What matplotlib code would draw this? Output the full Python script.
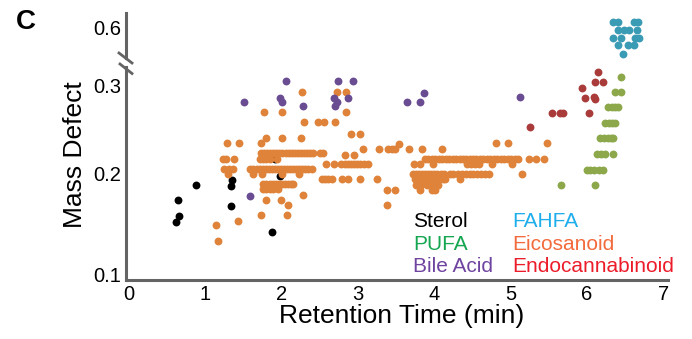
import numpy as np
import matplotlib
matplotlib.use("Agg")
import matplotlib.pyplot as plt
from matplotlib.lines import Line2D

plt.rcParams["font.family"] = ["Liberation Sans", "DejaVu Sans"]

# ---- data (retention time in min, mass defect) ----
sterol_x = [0.62, 0.66, 0.64, 0.88, 1.34, 1.34, 1.35, 1.87, 1.91, 1.98]
sterol_y = [0.150, 0.156, 0.172, 0.188, 0.166, 0.187, 0.193, 0.140, 0.216, 0.198]

eico_x = [
    1.17, 1.14, 1.43, 1.73, 2.07, 2.08, 3.38, 1.80, 1.99, 2.28,
    3.38, 3.49, 3.81, 3.97, 4.01,
    1.76, 1.80, 1.84, 1.88, 1.95,
    3.76, 3.82, 3.90, 3.98, 4.05,
    1.76, 1.80, 1.84, 1.88, 1.92, 1.96, 2.00, 2.04, 2.08, 2.12, 2.15,
    2.53, 2.57, 2.61, 2.66, 2.79, 2.87, 3.03, 3.25, 3.75, 3.79, 3.84, 3.88, 3.93, 3.97,
    4.02, 4.06, 4.11, 4.14, 4.34,
    1.30, 1.63, 1.74, 2.00, 2.23, 3.72, 3.76, 3.80, 3.84, 3.88, 3.92, 3.96, 4.00, 4.04,
    4.08, 4.12, 4.20, 4.25, 4.31, 4.36, 4.41, 4.46, 4.51, 4.56, 4.61, 4.66, 4.71, 5.15,
    1.24, 1.31, 1.36, 1.59, 1.63, 1.67, 1.71, 1.75, 1.79, 1.83, 1.87, 1.91, 1.95, 1.99,
    2.03, 2.07, 2.11, 2.15, 2.19, 2.23, 2.27, 2.31, 2.35, 2.39,
    2.58, 2.69, 2.78, 2.83, 2.87, 2.91, 2.95, 2.99, 3.03, 3.08, 3.13, 3.73, 3.81, 3.98,
    4.43, 4.48, 4.53, 4.58, 4.75, 5.02,
    1.23, 1.27, 1.38, 1.72, 1.76, 1.80, 1.84, 1.94, 3.88, 3.92, 3.97, 4.01, 4.06, 4.10,
    4.15, 4.19, 4.24, 4.28, 4.33, 4.37, 4.42, 4.46, 4.51, 4.55, 4.60, 4.64, 4.69, 4.73,
    4.78, 4.82, 4.87, 4.91, 4.96, 5.00, 5.05, 5.10, 5.24, 5.33, 5.43,
    2.83, 2.95,
    1.73, 1.77, 1.81, 1.85, 1.89, 1.93, 1.97, 2.01, 2.05, 2.09, 2.13, 2.17, 2.21, 2.25,
    2.29, 2.33, 2.37, 2.41, 2.50, 2.54,
    3.07, 3.28, 3.39, 3.44, 3.49, 3.67, 3.84, 4.10,
    3.54,
    1.28, 1.44, 1.73, 4.81, 4.97, 5.47,
    1.80, 2.01, 2.25,
    2.91, 3.03,
    2.29, 2.48, 2.56, 2.70,
    2.84, 1.77, 2.01,
    2.27, 2.73, 2.84,
]
eico_y = [
    0.132, 0.147, 0.151, 0.157, 0.157, 0.167, 0.167, 0.172, 0.172, 0.178,
    0.183, 0.183, 0.183, 0.183, 0.183,
    0.184, 0.184, 0.184, 0.184, 0.184,
    0.188, 0.188, 0.188, 0.188, 0.188,
    0.189, 0.189, 0.189, 0.189, 0.189, 0.189, 0.189, 0.189, 0.189, 0.189, 0.189,
    0.194, 0.194, 0.194, 0.194, 0.194, 0.194, 0.194, 0.194, 0.194, 0.194, 0.194, 0.194, 0.194, 0.194,
    0.194, 0.194, 0.194, 0.194, 0.194,
    0.200, 0.200, 0.200, 0.200, 0.200, 0.200, 0.200, 0.200, 0.200, 0.200, 0.200, 0.200, 0.200, 0.200,
    0.200, 0.200, 0.200, 0.200, 0.200, 0.200, 0.200, 0.200, 0.200, 0.200, 0.200, 0.200, 0.200, 0.200,
    0.205, 0.205, 0.205, 0.205, 0.205, 0.205, 0.205, 0.205, 0.205, 0.205, 0.205, 0.205, 0.205, 0.205,
    0.205, 0.205, 0.205, 0.205, 0.205, 0.205, 0.205, 0.205, 0.205, 0.205,
    0.210, 0.210, 0.210, 0.210, 0.210, 0.210, 0.210, 0.210, 0.210, 0.210, 0.210, 0.210, 0.210, 0.210,
    0.210, 0.210, 0.210, 0.210, 0.210, 0.210,
    0.216, 0.216, 0.216, 0.216, 0.216, 0.216, 0.216, 0.216, 0.216, 0.216, 0.216, 0.216, 0.216, 0.216,
    0.216, 0.216, 0.216, 0.216, 0.216, 0.216, 0.216, 0.216, 0.216, 0.216, 0.216, 0.216, 0.216, 0.216,
    0.216, 0.216, 0.216, 0.216, 0.216, 0.216, 0.216, 0.216, 0.216, 0.216, 0.216,
    0.220, 0.220,
    0.223, 0.223, 0.223, 0.223, 0.223, 0.223, 0.223, 0.223, 0.223, 0.223, 0.223, 0.223, 0.223, 0.223,
    0.223, 0.223, 0.223, 0.223, 0.223, 0.223,
    0.227, 0.227, 0.227, 0.227, 0.227, 0.227, 0.227, 0.227,
    0.232,
    0.234, 0.234, 0.234, 0.234, 0.234, 0.234,
    0.239, 0.239, 0.239,
    0.244, 0.244,
    0.257, 0.257, 0.257, 0.257,
    0.268, 0.269, 0.269,
    0.292, 0.292, 0.292,
]

bile_x = [1.51, 2.05, 1.98, 2.01, 2.28, 1.59, 2.74, 2.68, 2.72, 2.70, 2.93, 2.87,
          3.87, 3.64, 3.81, 5.12]
bile_y = [0.280, 0.305, 0.285, 0.280, 0.275, 0.177, 0.305, 0.285, 0.280, 0.275, 0.305, 0.285,
          0.291, 0.280, 0.280, 0.286]

endo_x = [5.25, 5.54, 5.65, 5.68, 6.02, 6.14, 6.10, 6.21, 5.93, 5.97, 6.09, 6.10]
endo_y = [0.251, 0.267, 0.267, 0.267, 0.267, 0.315, 0.303, 0.303, 0.296, 0.285, 0.286, 0.284]

pufa_x = [5.66, 6.10, 6.44, 6.36, 6.45,
          6.28, 6.33, 6.37, 6.40,
          6.24, 6.29, 6.33, 6.37,
          6.17, 6.22, 6.27, 6.31, 6.34,
          6.13, 6.18, 6.24, 6.34,
          6.00, 6.04, 6.09, 6.16, 6.21]
pufa_y = [0.188, 0.188, 0.310, 0.292, 0.292,
          0.274, 0.274, 0.274, 0.274,
          0.256, 0.256, 0.256, 0.256,
          0.239, 0.239, 0.239, 0.239, 0.239,
          0.221, 0.221, 0.221, 0.221,
          0.204, 0.204, 0.204, 0.204, 0.204]

fahfa_x = [6.34, 6.40, 6.61, 6.67,
           6.41, 6.49, 6.55, 6.65,
           6.34, 6.45, 6.63, 6.68,
           6.40, 6.53, 6.61,
           6.47]
fahfa_y = [0.607, 0.607, 0.607, 0.607,
           0.596, 0.596, 0.596, 0.596,
           0.585, 0.585, 0.585, 0.585,
           0.574, 0.574, 0.574,
           0.562]

legend_labels = ["Sterol", "PUFA", "Bile Acid", "FAHFA", "Eicosanoid", "Endocannabinoid"]
legend_colors = ["#000000", "#14A650", "#6F43A0", "#1EAEEB", "#F36A3C", "#EC1C2A"]

# ---- figure ----
W, H = 692, 339
fig = plt.figure(figsize=(W / 100, H / 100), dpi=100)
ax = fig.add_axes([126 / W, 59 / H, 542 / W, 213 / H])
axt = fig.add_axes([126 / W, (H - 58) / H, 542 / W, 45 / H])

spine_col = "#646464"
ms = 32

def fwd(v):
    return np.sign(v) * np.abs(v) ** 0.75

def inv(v):
    return np.sign(v) * np.abs(v) ** (4 / 3)

ax.set_yscale("function", functions=(fwd, inv))

ax.scatter(sterol_x, sterol_y, s=ms, c="black", linewidths=0, zorder=2)
ax.scatter(eico_x, eico_y, s=ms, c="#E0833A", linewidths=0, zorder=3)
ax.scatter(bile_x, bile_y, s=ms, c="#6A4C93", linewidths=0, zorder=4)
ax.scatter(endo_x, endo_y, s=ms, c="#A93B3B", linewidths=0, zorder=4)
ax.scatter(pufa_x, pufa_y, s=ms, c="#8CA84A", linewidths=0, zorder=4)
axt.scatter(fahfa_x, fahfa_y, s=ms, c="#3A9BB5", linewidths=0, clip_on=False)

ax.set_xlim(-0.04, 7.06)
ax.set_ylim(0.0955, 0.3215)
axt.set_xlim(-0.04, 7.06)
axt.set_ylim(0.5564, 0.6197)

ax.set_xticks(range(8))
ax.set_yticks([0.1, 0.2, 0.3])
ax.set_yticklabels(["0.1", "0.2", "0.3"])
ax.minorticks_off()
axt.set_xticks([])
axt.set_yticks([0.6])
axt.set_yticklabels(["0.6"])

for a in (ax, axt):
    a.tick_params(length=0, labelsize=14.5, pad=3.5)
    for s in ["top", "right"]:
        a.spines[s].set_visible(False)
    a.spines["left"].set_color(spine_col)
    a.spines["left"].set_linewidth(2.2)
axt.spines["bottom"].set_visible(False)
ax.spines["bottom"].set_color(spine_col)
ax.spines["bottom"].set_linewidth(2.2)

# axis break marks
for (x0, y0, x1, y1) in [(119, 53, 132, 63), (120, 64, 132, 73.5)]:
    fig.add_artist(Line2D([x0 / W, x1 / W], [1 - y0 / H, 1 - y1 / H],
                          color=spine_col, lw=2.0, transform=fig.transFigure))

fig.text(402 / W, 1 - 316 / H, "Retention Time (min)", ha="center", va="center", fontsize=19)
fig.text(75 / W, 1 - 155 / H, "Mass Defect", ha="center", va="center", rotation=90, fontsize=19)
fig.text(26 / W, 1 - 22 / H, "C", ha="center", va="center", fontsize=20, fontweight="bold")

# legend as coloured text
col_x = [413, 512]
row_base = [227, 249.5, 272.5]
for i, (lab, colr) in enumerate(zip(legend_labels, legend_colors)):
    fig.text(col_x[i // 3] / W, 1 - row_base[i % 3] / H, lab, color=colr,
             fontsize=15, ha="left", va="baseline")

fig.savefig("out.png", dpi=100)
